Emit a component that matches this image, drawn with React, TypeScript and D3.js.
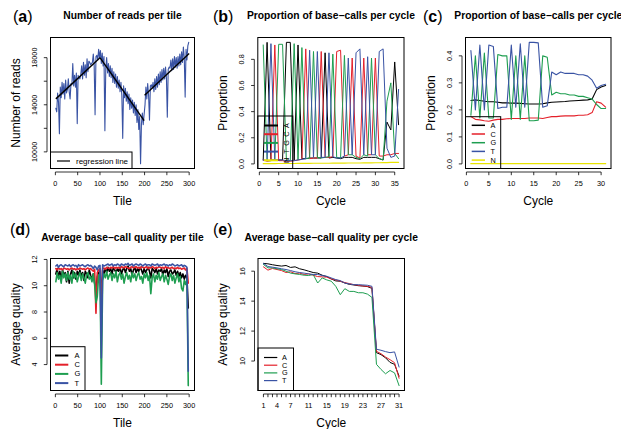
import React from 'react';
import * as d3 from 'd3';

const FONT = "'Liberation Sans', Arial, Helvetica, sans-serif";
const COL: Record<string, string> = { A: '#000000', C: '#E4202A', G: '#1E9E50', T: '#3953A4', N: '#E8E400' };

// ---------- (a) Number of reads per tile ----------
const tilesA = d3.range(1, 300, 2);
const readsA = [
  13700, 13400, 15000, 14200, 11550, 15500, 14600, 15900, 14900, 15800,
  14500, 16100, 15000, 15300, 16200, 15100, 14500, 15800, 15700, 17500,
  15600, 16500, 15500, 16700, 12400, 16500, 16300, 16200, 16600, 17300,
  16200, 17600, 16500, 17400, 16300, 17900, 16800, 17700, 17600, 17400,
  17500, 17600, 18300, 17300, 13150, 18100, 18200, 17800, 18700, 18000,
  18600, 17500, 18400, 17300, 18100, 11800, 17100, 18000, 16700, 17500,
  16400, 17300, 16300, 17100, 15900, 16800, 15800, 16600, 15500, 16400,
  15400, 16100, 15100, 15900, 14800, 11150, 15600, 14600, 15400, 14300,
  15100, 14100, 14900, 13600, 14600, 13700, 14400, 13300, 14200, 13100,
  14000, 12500, 13600, 11900, 13000, 9000, 12400, 13300, 12300, 13200,
  14000, 15500, 14500, 15800, 14800, 12700, 15600, 15700, 15400, 15900,
  15100, 16200, 15300, 16400, 15500, 16600, 15700, 16800, 15900, 17000,
  16100, 17100, 16200, 17200, 16300, 12950, 17000, 17200, 17100, 17800,
  16900, 17900, 17000, 18100, 17200, 18000, 17100, 18100, 17300, 18300,
  17400, 18500, 17600, 18900, 18000, 14650, 18700, 17800, 19000, 19300,
];
const regTiles = [[1, 100], [100, 199], [200, 300]];
const regReads = [[14500, 18000], [18000, 12650], [14800, 18350]];

// ---------- (b) Proportion of base-calls per cycle (36 cycles) ----------
const cyclesB = d3.range(1, 37);
const propB_A = [.03, .93, .03, .03, .03, .03, .93, .93, .03, .91, .04, .04, .045, .045, .045, .045, .85, .045, .05, .045, .04, .05, .05, .05, .04, .035, .05, .05, .05, .05, .04, .03, .32, .26, .78, .30];
const propB_C = [.03, .02, .025, .91, .025, .025, .02, .02, .025, .03, .035, .88, .04, .045, .045, .86, .05, .05, .055, .86, .87, .06, .07, .81, .06, .045, .81, .07, .07, .81, .06, .06, .07, .07, .08, .08];
const propB_G = [.91, .025, .025, .03, .915, .915, .025, .025, .92, .03, .89, .04, .045, .86, .05, .045, .05, .055, .84, .05, .045, .83, .07, .07, .05, .04, .07, .06, .81, .07, .04, .03, .48, .62, .08, .04];
const propB_T = [.03, .025, .92, .03, .03, .03, .025, .025, .025, .03, .035, .04, .87, .05, .86, .05, .05, .85, .055, .045, .045, .06, .81, .07, .85, .88, .07, .82, .07, .07, .86, .88, .12, .05, .06, .57];
const propB_N = [.002, .002, .002, .002, .003, .003, .003, .003, .003, .004, .004, .004, .004, .005, .005, .005, .005, .005, .006, .006, .006, .006, .007, .007, .007, .007, .008, .008, .008, .009, .009, .010, .010, .011, .011, .012];

// ---------- (c) Proportion of base-calls per cycle (31 cycles) ----------
const cyclesC = d3.range(1, 32);
const propC_A = [.235, .237, .235, .232, .230, .230, .228, .226, .226, .225, .225, .224, .223, .222, .222, .222, .223, .226, .228, .229, .230, .231, .233, .234, .235, .236, .237, .240, .275, .285, .290];
const propC_C = [.175, .165, .163, .160, .158, .162, .165, .165, .167, .168, .168, .168, .168, .170, .170, .170, .168, .172, .175, .175, .177, .178, .178, .178, .180, .180, .182, .190, .230, .225, .210];
const propC_G = [.18, .40, .17, .41, .17, .17, .405, .40, .40, .165, .40, .165, .40, .16, .16, .162, .40, .395, .255, .265, .26, .26, .255, .255, .25, .25, .245, .24, .22, .205, .205];
const propC_T = [.42, .20, .44, .20, .44, .435, .205, .21, .21, .44, .21, .445, .21, .45, .45, .448, .21, .215, .34, .33, .34, .335, .335, .335, .33, .33, .325, .31, .28, .29, .295];
const propC_N = [.001, .001, .001, .001, .001, .001, .001, .001, .001, .001, .001, .001, .001, .001, .001, .001, .001, .001, .001, .001, .001, .001, .001, .001, .001, .001, .001, .001, .001, .001, .001];

// ---------- (d) Average base-call quality per tile ----------
const tilesD = d3.range(1, 300, 3);
const qualD_A = [
  10.9, 11.3, 10.6, 11.1, 10.4, 11.2, 10.8, 11.0, 10.3, 11.1,
  10.2, 10.9, 11.2, 10.6, 11.0, 10.5, 11.1, 10.8, 11.2, 10.7,
  11.0, 10.4, 11.1, 10.9, 10.6, 11.2, 10.8, 10.5, 10.9, 10.2,
  9.6, 10.7, 11.0, 11.1, 8.8, 11.2, 10.9, 11.3, 11.0, 11.4,
  11.1, 11.3, 10.9, 11.4, 11.2, 11.0, 11.3, 11.1, 11.4, 10.9,
  11.2, 11.4, 11.0, 11.3, 11.5, 11.1, 11.3, 10.8, 11.2, 11.4,
  11.0, 11.3, 11.1, 11.4, 11.2, 10.9, 11.3, 11.0, 11.2, 11.4,
  11.1, 10.6, 11.3, 11.2, 11.0, 11.3, 10.9, 11.2, 11.1, 11.3,
  10.8, 11.2, 11.0, 11.3, 10.7, 11.1, 11.2, 10.9, 11.0, 11.2,
  10.8, 11.1, 10.7, 11.0, 10.6, 10.9, 10.5, 10.8, 10.6, 8.3,
];
const qualD_C = [
  11.3, 11.2, 11.35, 11.25, 11.3, 11.2, 11.35, 11.3, 11.25, 11.3,
  11.2, 11.3, 11.35, 11.25, 11.3, 11.2, 11.3, 11.25, 11.35, 11.3,
  11.25, 11.3, 11.2, 11.3, 11.35, 11.25, 11.3, 11.2, 11.1, 11.25,
  7.9, 11.0, 11.2, 11.3, 8.5, 11.3, 11.35, 11.25, 11.4, 11.35,
  11.3, 11.4, 11.35, 11.45, 11.3, 11.4, 11.35, 11.4, 11.3, 11.45,
  11.4, 11.35, 11.45, 11.4, 11.35, 11.3, 11.4, 11.45, 11.35, 11.4,
  11.45, 11.35, 11.4, 11.3, 11.45, 11.4, 11.35, 11.4, 11.45, 11.3,
  11.4, 11.35, 11.45, 11.4, 11.3, 11.4, 11.35, 11.45, 11.4, 11.35,
  11.4, 11.3, 11.45, 11.35, 11.4, 11.3, 11.35, 11.4, 11.3, 11.35,
  11.3, 11.4, 11.3, 11.35, 11.25, 11.3, 11.35, 11.2, 11.3, 10.2,
];
const qualD_G = [
  10.3, 11.0, 10.5, 10.8, 10.2, 11.1, 10.6, 10.9, 10.4, 11.0,
  10.5, 10.8, 10.2, 11.1, 10.6, 10.9, 10.3, 10.7, 11.0, 10.4,
  10.9, 10.6, 10.2, 10.8, 11.0, 10.5, 10.7, 10.3, 10.9, 10.1,
  8.7, 9.2, 10.8, 10.9, 2.5, 10.4, 10.9, 10.6, 11.1, 10.5,
  10.8, 11.0, 10.4, 10.9, 10.6, 11.1, 10.3, 10.8, 11.0, 10.5,
  10.9, 10.2, 10.7, 11.0, 10.5, 10.8, 10.3, 11.0, 10.6, 10.9,
  10.4, 10.8, 11.0, 10.5, 10.7, 10.2, 10.9, 10.6, 11.0, 10.4,
  10.8, 9.4, 10.6, 10.9, 10.3, 10.8, 10.5, 11.0, 10.4, 10.7,
  10.9, 10.3, 10.8, 10.5, 10.1, 10.7, 10.9, 10.4, 10.8, 10.2,
  10.6, 10.9, 10.3, 10.7, 9.8, 9.6, 10.4, 10.1, 10.5, 2.4,
];
const qualD_T = [
  11.5, 11.6, 11.4, 11.55, 11.6, 11.5, 11.45, 11.6, 11.55, 11.5,
  11.6, 11.45, 11.55, 11.6, 11.5, 11.55, 11.4, 11.6, 11.5, 11.55,
  11.6, 11.5, 11.45, 11.55, 11.6, 11.5, 11.55, 11.45, 11.3, 11.5,
  11.4, 11.2, 11.5, 11.55, 4.5, 11.6, 11.5, 11.55, 11.6, 11.65,
  11.55, 11.6, 11.65, 11.5, 11.6, 11.55, 11.65, 11.6, 11.5, 11.65,
  11.6, 11.55, 11.65, 11.6, 11.7, 11.55, 11.6, 11.65, 11.5, 11.6,
  11.65, 11.6, 11.55, 11.65, 11.6, 11.5, 11.6, 11.65, 11.55, 11.6,
  11.6, 11.5, 11.65, 11.6, 11.55, 11.6, 11.65, 11.5, 11.6, 11.55,
  11.6, 11.65, 11.55, 11.6, 11.5, 11.6, 11.55, 11.65, 11.6, 11.5,
  11.55, 11.6, 11.5, 11.55, 11.6, 11.45, 11.55, 11.5, 11.4, 3.5,
];

// ---------- (e) Average base-call quality per cycle ----------
const cyclesE = d3.range(1, 32);
const qualE_A = [16.52, 16.49, 16.43, 16.38, 16.34, 16.38, 16.25, 16.29, 16.16, 16.09, 16.0, 15.91, 15.87, 15.73, 15.64, 15.48, 15.35, 15.33, 15.21, 15.12, 15.08, 15.03, 15.01, 14.97, 14.85, 10.56, 10.43, 10.22, 9.91, 9.78, 8.99];
const qualE_C = [16.29, 16.07, 16.18, 16.11, 16.04, 15.91, 15.96, 15.84, 15.87, 15.78, 15.82, 15.73, 15.64, 15.62, 15.6, 15.48, 15.42, 15.33, 15.24, 15.17, 15.1, 15.06, 15.01, 14.99, 14.92, 10.65, 10.49, 10.27, 10.09, 9.89, 8.85];
const qualE_G = [16.45, 16.22, 16.22, 16.16, 16.11, 16.0, 15.87, 15.82, 15.78, 15.73, 15.71, 15.78, 15.21, 15.55, 15.42, 15.33, 14.99, 14.43, 14.83, 14.65, 14.65, 14.56, 14.56, 14.47, 14.25, 9.78, 9.44, 9.15, 9.37, 9.21, 8.36];
const qualE_T = [16.52, 16.31, 16.27, 16.22, 16.16, 16.11, 16.04, 15.96, 15.91, 15.87, 15.82, 15.78, 15.78, 15.71, 15.66, 15.55, 15.44, 15.37, 15.21, 15.15, 15.1, 15.1, 15.08, 15.06, 14.99, 10.79, 10.72, 10.63, 10.56, 10.61, 9.6];

// ---------- ticks ----------
const tileTicks = [0, 50, 100, 150, 200, 250, 300];
const readTicks = [10000, 12000, 14000, 16000, 18000];
const readTickLabels = ['10000', '', '14000', '', '18000'];
const cycleTicksB = [0, 5, 10, 15, 20, 25, 30, 35];
const propTicksB = [0, 0.2, 0.4, 0.6, 0.8];
const cycleTicksC = [0, 5, 10, 15, 20, 25, 30];
const propTicksC = [0, 0.1, 0.2, 0.3, 0.4];
const qualTicksD = [4, 6, 8, 10, 12];
const cycleTicksE = d3.range(1, 32);
const cycleLabelsE = cycleTicksE.map((c) => ([1, 4, 7, 11, 15, 19, 23, 27, 31].includes(c) ? String(c) : ''));
const qualTicksE = [10, 12, 14, 16];

type Frame = { x0: number; x1: number; y0: number; y1: number };
type Series = { x: number[]; y: number[]; color: string; width: number };
type LegendItem = { label: string; color: string };
type Legend = { right: number; top: number; lineX0: number; lineX1: number; textX: number; ys: number[]; items: LegendItem[]; lw: number; rotate?: boolean; fs: number };

const pad = (ext: [number, number]): [number, number] => {
  const r = ext[1] - ext[0];
  return [ext[0] - 0.04 * r, ext[1] + 0.04 * r];
};

function Panel(p: {
  frame: Frame; xExt: [number, number]; yExt: [number, number];
  xTicks: number[]; xLabels?: string[]; yTicks: number[]; yLabels?: string[];
  series: Series[]; title: string; tag: string; tagX: number; tagY: number; titleY: number;
  xTitle: string; yTitle: string; legend?: Legend; children?: (x: any, y: any) => React.ReactNode;
  fmtY?: (v: number) => string;
}) {
  const { frame: f } = p;
  const x = d3.scaleLinear().domain(pad(p.xExt)).range([f.x0, f.x1]);
  const y = d3.scaleLinear().domain(pad(p.yExt)).range([f.y1, f.y0]);
  const line = d3.line<[number, number]>().x((d) => x(d[0])).y((d) => y(d[1]));
  const cx = (f.x0 + f.x1) / 2;
  const cy = (f.y0 + f.y1) / 2;
  const axY = f.y1 + 3.5;
  const axX = f.x0 - 3.5;
  const fmtY = p.fmtY || ((v: number) => String(v));
  const xl = p.xLabels || p.xTicks.map(String);
  const yl = p.yLabels || p.yTicks.map(fmtY);
  const L = p.legend;
  return (
    <g fontFamily={FONT}>
      <text x={p.tagX} y={p.tagY} fontSize={16}>
        <tspan>(</tspan><tspan fontWeight="bold">{p.tag}</tspan><tspan>)</tspan>
      </text>
      <text x={cx} y={p.titleY} fontSize={10.3} fontWeight="bold" textAnchor="middle">{p.title}</text>
      {p.series.map((s, i) => (
        <path key={i} d={line(s.x.map((v, j) => [v, s.y[j]] as [number, number])) || ''} fill="none" stroke={s.color} strokeWidth={s.width} strokeLinejoin="round" strokeLinecap="round" />
      ))}
      {p.children && p.children(x, y)}
      <rect x={f.x0} y={f.y0} width={f.x1 - f.x0} height={f.y1 - f.y0} fill="none" stroke="#000" strokeWidth={1} />
      <line x1={x(p.xTicks[0])} x2={x(p.xTicks[p.xTicks.length - 1])} y1={axY} y2={axY} stroke="#000" strokeWidth={0.8} />
      {p.xTicks.map((t, i) => (
        <g key={i}>
          <line x1={x(t)} x2={x(t)} y1={axY} y2={axY + 3.2} stroke="#000" strokeWidth={0.8} />
          {xl[i] && <text x={x(t)} y={f.y1 + 17.5} fontSize={7.3} textAnchor="middle">{xl[i]}</text>}
        </g>
      ))}
      <line x1={axX} x2={axX} y1={y(p.yTicks[0])} y2={y(p.yTicks[p.yTicks.length - 1])} stroke="#000" strokeWidth={0.8} />
      {p.yTicks.map((t, i) => (
        <g key={i}>
          <line x1={axX} x2={axX - 3.2} y1={y(t)} y2={y(t)} stroke="#000" strokeWidth={0.8} />
          {yl[i] && <text transform={`translate(${f.x0 - 13.5},${y(t)}) rotate(-90)`} fontSize={7.3} textAnchor="middle">{yl[i]}</text>}
        </g>
      ))}
      <text x={cx} y={f.y1 + 36} fontSize={12} textAnchor="middle">{p.xTitle}</text>
      <text transform={`translate(${f.x0 - 31},${cy}) rotate(-90)`} fontSize={12} textAnchor="middle">{p.yTitle}</text>
      {L && (
        <g>
          <rect x={f.x0} y={L.top} width={L.right - f.x0} height={f.y1 - L.top} fill="none" stroke="#000" strokeWidth={1} />
          {L.items.map((it, i) => (
            <g key={i}>
              <line x1={L.lineX0} x2={L.lineX1} y1={L.ys[i]} y2={L.ys[i]} stroke={it.color} strokeWidth={L.lw} />
              {L.rotate ? (
                <text transform={`translate(${L.textX},${L.ys[i]}) rotate(-90)`} fontSize={L.fs} textAnchor="middle" dominantBaseline="central">{it.label}</text>
              ) : (
                <text x={L.textX} y={L.ys[i]} fontSize={L.fs} textAnchor="start" dominantBaseline="central">{it.label}</text>
              )}
            </g>
          ))}
        </g>
      )}
    </g>
  );
}

const baseItems = (keys: string[]) => keys.map((k) => ({ label: k, color: COL[k] }));

export default function App() {
  const fa: Frame = { x0: 50.5, x1: 194.5, y0: 37.5, y1: 168.5 };
  const fb: Frame = { x0: 257.8, x1: 404, y0: 37.5, y1: 168.5 };
  const fc: Frame = { x0: 465.5, x1: 611, y0: 37.5, y1: 168.5 };
  const fd: Frame = { x0: 50.5, x1: 194.5, y0: 258.5, y1: 390.5 };
  const fe: Frame = { x0: 258, x1: 404.5, y0: 258.5, y1: 390.5 };
  const ext = (arrs: number[][]): [number, number] => [d3.min(arrs, (a) => d3.min(a)) as number, d3.max(arrs, (a) => d3.max(a)) as number];
  return (
    <svg width={621} height={429} style={{ position: 'absolute', left: 0, top: 0, background: '#fff' }}>
      <rect width={621} height={429} fill="#fff" />
      <Panel frame={fa} xExt={[1, 300]} yExt={ext([readsA])} xTicks={tileTicks} yTicks={readTicks} yLabels={readTickLabels}
        series={[{ x: tilesA, y: readsA, color: COL.T, width: 1.1 }]}
        title="Number of reads per tile" tag="a" tagX={13} tagY={21.5} titleY={19}
        xTitle="Tile" yTitle="Number of reads"
        legend={{ right: 132, top: 152, lineX0: 57, lineX1: 70, textX: 76, ys: [161], items: [{ label: 'regression line', color: '#000' }], lw: 1.2, fs: 8 }}>
        {(x, y) => regTiles.map((t, i) => (
          <line key={i} x1={x(t[0])} x2={x(t[1])} y1={y(regReads[i][0])} y2={y(regReads[i][1])} stroke="#000" strokeWidth={1.4} />
        ))}
      </Panel>
      <Panel frame={fb} xExt={[1, 36]} yExt={ext([propB_A, propB_C, propB_G, propB_T, propB_N])} xTicks={cycleTicksB} yTicks={propTicksB}
        fmtY={(v) => v.toFixed(1)}
        series={[
          { x: cyclesB, y: propB_A, color: COL.A, width: 1 },
          { x: cyclesB, y: propB_C, color: COL.C, width: 1 },
          { x: cyclesB, y: propB_G, color: COL.G, width: 1 },
          { x: cyclesB, y: propB_T, color: COL.T, width: 1 },
          { x: cyclesB, y: propB_N, color: COL.N, width: 1.2 },
        ]}
        title="Proportion of base−calls per cycle" tag="b" tagX={213} tagY={21.5} titleY={19}
        xTitle="Cycle" yTitle="Proportion"
        legend={{ right: 292.7, top: 116, lineX0: 264, lineX1: 278, textX: 286, ys: [125.5, 134.2, 142.9, 151.6, 160.3], items: baseItems(['A', 'C', 'G', 'T', 'N']), lw: 2, rotate: true, fs: 7.3 }}
      />
      <Panel frame={fc} xExt={[1, 31]} yExt={ext([propC_A, propC_C, propC_G, propC_T, propC_N])} xTicks={cycleTicksC} yTicks={propTicksC}
        fmtY={(v) => v.toFixed(1)}
        series={[
          { x: cyclesC, y: propC_A, color: COL.A, width: 1.1 },
          { x: cyclesC, y: propC_C, color: COL.C, width: 1.1 },
          { x: cyclesC, y: propC_G, color: COL.G, width: 1.1 },
          { x: cyclesC, y: propC_T, color: COL.T, width: 1.1 },
          { x: cyclesC, y: propC_N, color: COL.N, width: 1.4 },
        ]}
        title="Proportion of base−calls per cycle" tag="c" tagX={423} tagY={21.5} titleY={19}
        xTitle="Cycle" yTitle="Proportion"
        legend={{ right: 500.7, top: 116.7, lineX0: 471.7, lineX1: 485, textX: 490.5, ys: [125.3, 134, 142.7, 151.4, 160.1], items: baseItems(['A', 'C', 'G', 'T', 'N']), lw: 1.5, fs: 7.3 }}
      />
      <Panel frame={fd} xExt={[1, 300]} yExt={ext([qualD_A, qualD_C, qualD_G, qualD_T])} xTicks={tileTicks} yTicks={qualTicksD}
        series={[
          { x: tilesD, y: qualD_A, color: COL.A, width: 1.6 },
          { x: tilesD, y: qualD_C, color: COL.C, width: 1.6 },
          { x: tilesD, y: qualD_G, color: COL.G, width: 1.6 },
          { x: tilesD, y: qualD_T, color: COL.T, width: 1.6 },
        ]}
        title="Average base−call quality per tile" tag="d" tagX={10} tagY={234.5} titleY={241}
        xTitle="Tile" yTitle="Average quality"
        legend={{ right: 85, top: 346.7, lineX0: 55, lineX1: 68.3, textX: 74.5, ys: [355.5, 364.7, 373.9, 383.1], items: baseItems(['A', 'C', 'G', 'T']), lw: 2, fs: 7.5 }}
      />
      <Panel frame={fe} xExt={[1, 31]} yExt={ext([qualE_A, qualE_C, qualE_G, qualE_T])} xTicks={cycleTicksE} xLabels={cycleLabelsE} yTicks={qualTicksE}
        series={[
          { x: cyclesE, y: qualE_A, color: COL.A, width: 1 },
          { x: cyclesE, y: qualE_C, color: COL.C, width: 1 },
          { x: cyclesE, y: qualE_G, color: COL.G, width: 1 },
          { x: cyclesE, y: qualE_T, color: COL.T, width: 1 },
        ]}
        title="Average base−call quality per cycle" tag="e" tagX={213} tagY={234.5} titleY={241}
        xTitle="Cycle" yTitle="Average quality"
        legend={{ right: 293.5, top: 348, lineX0: 264, lineX1: 277.3, textX: 282, ys: [357.5, 365.2, 372.9, 380.6], items: baseItems(['A', 'C', 'G', 'T']), lw: 1.2, fs: 7.3 }}
      />
    </svg>
  );
}
